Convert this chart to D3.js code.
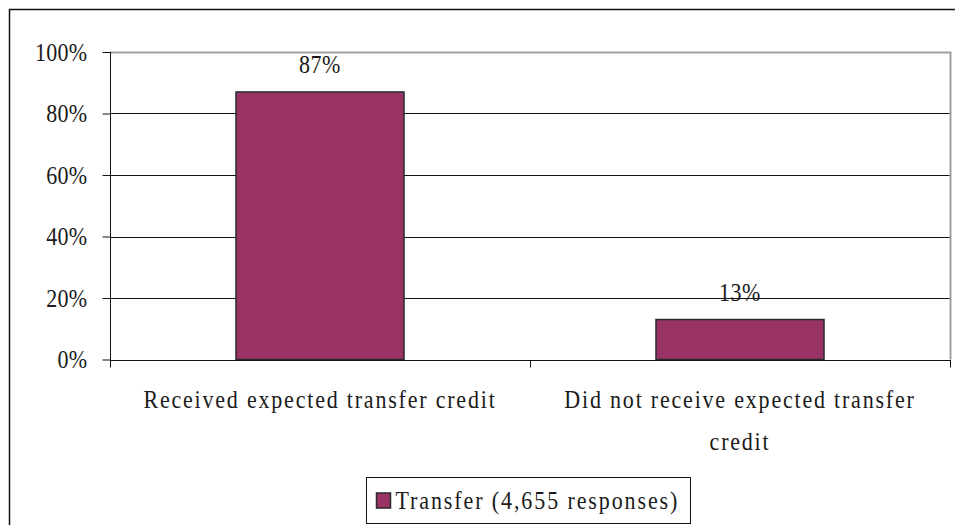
<!DOCTYPE html>
<html>
<head>
<meta charset="utf-8">
<script src="https://cdn.jsdelivr.net/npm/d3@7"></script>
<style>
  body { margin: 0; background: #fff; }
  svg text { font-family: "Times New Roman", "Liberation Serif", Times, serif !important; fill: #1a1a1a; }
</style>
</head>
<body>
<div id="chart"></div>
<script>
// Chart data
const categories = ["Received expected transfer credit", "Did not receive expected transfer credit"];
const categoryLines = [["Received expected transfer credit"], ["Did not receive expected transfer", "credit"]];
const transferValues = [0.87, 0.13];
const yTicks = [0, 0.2, 0.4, 0.6, 0.8, 1.0];
const seriesName = "Transfer (4,655 responses)";

const width = 955, height = 525;
const plot = { left: 110, right: 950, top: 52, bottom: 359.5 };
const serif = "'Times New Roman', 'Liberation Serif', Times, serif";
const tall = 1.13; // text in the source is slightly stretched vertically

const svg = d3.select("#chart").append("svg")
  .attr("width", width)
  .attr("height", height)
  .attr("font-family", serif);

// put text at (x, y) with a small vertical stretch
function placeText(sel, fx, fy) {
  sel.attr("transform", (d, i) => `translate(${fx(d, i)},${fy(d, i)}) scale(1,${tall})`);
}

// Outer chart border (runs off the right and bottom edges)
svg.append("rect")
  .attr("x", 9.5).attr("y", 9.5)
  .attr("width", 960).attr("height", 530)
  .attr("fill", "none")
  .attr("stroke", "#111")
  .attr("stroke-width", 1.5);

// Scales
const x = d3.scaleBand()
  .domain(categories)
  .range([plot.left, plot.right])
  .padding(0);

const y = d3.scaleLinear()
  .domain([0, 1])
  .range([plot.bottom, plot.top]);

// Gridlines
svg.append("g")
  .selectAll("line")
  .data(yTicks.filter(d => d > 0 && d < 1))
  .join("line")
    .attr("x1", plot.left).attr("x2", plot.right)
    .attr("y1", d => Math.round(y(d)) + 0.5)
    .attr("y2", d => Math.round(y(d)) + 0.5)
    .attr("stroke", "#111");

// Plot area border (top and right, grey)
svg.append("path")
  .attr("d", `M${plot.left},${plot.top + 0.5}H${plot.right + 0.5}V${plot.bottom}`)
  .attr("fill", "none")
  .attr("stroke", "#a0a0a0")
  .attr("stroke-width", 2);

// Y axis
const yAxis = svg.append("g")
  .attr("transform", `translate(${plot.left + 0.5},0)`)
  .call(d3.axisLeft(y).tickValues(yTicks).tickSize(8).tickPadding(15)
    .tickFormat(d3.format(".0%")));
yAxis.attr("font-family", serif).attr("font-size", 22);
yAxis.select(".domain").attr("stroke", "#111").attr("d", `M0,${plot.top}V${plot.bottom + 7}`);
yAxis.selectAll(".tick line").attr("stroke", "#111");
yAxis.selectAll(".tick text")
  .attr("fill", "#1a1a1a")
  .attr("letter-spacing", 0.3)
  .attr("dy", null)
  .attr("x", null);
placeText(yAxis.selectAll(".tick text"), () => -23, () => 8);

// X axis (ticks at category boundaries)
const xAxis = svg.append("g")
  .attr("transform", `translate(0,${Math.round(plot.bottom) + 0.5})`);
xAxis.append("line")
  .attr("x1", plot.left).attr("x2", plot.right + 1)
  .attr("stroke", "#111");
const bounds = categories.map(c => x(c)).concat([x(categories[categories.length - 1]) + x.bandwidth()]);
xAxis.selectAll("line.tick")
  .data(bounds)
  .join("line")
    .attr("class", "tick")
    .attr("x1", d => Math.round(d) + 0.5).attr("x2", d => Math.round(d) + 0.5)
    .attr("y1", 0).attr("y2", 7)
    .attr("stroke", "#111");

// Category labels, one text per line
const catLines = categories.flatMap((c, i) =>
  categoryLines[i].map((t, j) => ({ cat: c, text: t, line: j })));
const catText = xAxis.selectAll("text.cat")
  .data(catLines)
  .join("text")
    .attr("class", "cat")
    .attr("text-anchor", "middle")
    .attr("font-size", 22)
    .attr("letter-spacing", 1.8)
    .text(d => d.text);
placeText(catText, d => x(d.cat) + x.bandwidth() / 2, d => 47 + d.line * 42);

// Bars
const barW = x.bandwidth() * 0.4;
svg.append("g")
  .selectAll("rect")
  .data(transferValues)
  .join("rect")
    .attr("x", (d, i) => x(categories[i]) + (x.bandwidth() - barW) / 2)
    .attr("y", d => y(d))
    .attr("width", barW)
    .attr("height", d => plot.bottom - y(d))
    .attr("fill", "#993366")
    .attr("stroke", "#2a2a2a")
    .attr("stroke-width", 1.5);

// Value labels
const valText = svg.append("g")
  .selectAll("text")
  .data(transferValues)
  .join("text")
    .attr("text-anchor", "middle")
    .attr("font-size", 22)
    .attr("letter-spacing", 0.5)
    .text(d => d3.format(".0%")(d));
placeText(valText, (d, i) => x(categories[i]) + x.bandwidth() / 2, d => y(d) - 19);

// Legend
const legend = svg.append("g").attr("transform", "translate(366.5,477.5)");
legend.append("rect")
  .attr("width", 324).attr("height", 46)
  .attr("fill", "#fff")
  .attr("stroke", "#111");
legend.append("rect")
  .attr("x", 10).attr("y", 15.5)
  .attr("width", 14).attr("height", 15)
  .attr("fill", "#993366")
  .attr("stroke", "#2a2a2a")
  .attr("stroke-width", 1.5);
const legText = legend.selectAll("text")
  .data([seriesName])
  .join("text")
    .attr("font-size", 22)
    .attr("letter-spacing", 1.9)
    .text(d => d);
placeText(legText, () => 29, () => 31);
</script>
</body>
</html>
